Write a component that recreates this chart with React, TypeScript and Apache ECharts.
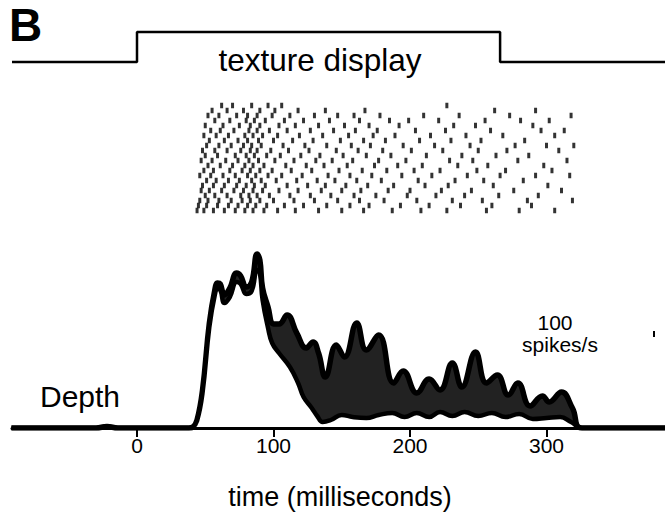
import React, { useEffect, useRef } from "react";
import * as echarts from "echarts";

// ---- data ----
const TICK_VALUES = [0, 100, 200, 300];
const STIM_ON = 0;
const STIM_OFF = 266;

// PSTH upper envelope (time ms, spikes/s scaled)
const PSTH_T_UP = [-92, -30, -22, -14, 38, 41, 44, 48, 53, 57, 59, 61, 64, 68, 73, 76, 80, 84, 88, 90, 92, 96, 100, 104, 110, 117, 124, 129, 133, 138, 146, 152, 161, 168, 177, 188, 195, 205, 214, 222, 231, 238, 248, 256, 264, 272, 279, 288, 297, 302, 311, 319, 326, 390];
const PSTH_UP = [0, 0, 1.5, 0, 0, 1, 8, 38, 105, 138, 145, 144, 133, 140, 155, 152, 141, 146, 174, 168, 140, 121, 104, 104, 113, 95, 80, 86, 75, 51, 83, 71, 105, 78, 93, 45, 57, 35, 49, 38, 65, 41, 76, 45, 53, 33, 45, 22, 32, 26, 36, 20, 0, 0];
// PSTH lower envelope
const PSTH_T_LO = [-92, -30, -22, -14, 38, 41, 44, 48, 53, 57, 59, 61, 64, 68, 73, 76, 80, 84, 88, 90, 92, 96, 99, 104, 112, 118, 122, 128, 132, 136, 142, 150, 158, 168, 177, 187, 196, 205, 214, 222, 231, 240, 250, 260, 270, 280, 290, 300, 310, 318, 326, 390];
const PSTH_LO = [0, 0, 1.5, 0, 0, 1, 7, 35, 101, 133, 139, 138, 125, 131, 146, 144, 134, 137, 158, 155, 128, 100, 85, 75, 61, 45, 31, 20, 12, 6, 8, 13, 11, 10, 13, 15, 11, 15, 11, 16, 12, 16, 12, 15, 11, 14, 9, 10, 11, 6, 0, 0];

// raster: spike times (ms) per trial, top to bottom
const RASTER = [
  [62, 70, 84, 96, 106, 227],
  [55, 66, 78, 90, 101, 118, 138, 167, 262, 292],
  [52, 60, 73, 81, 88, 99, 112, 130, 147, 159, 178, 210, 236, 273, 318],
  [57, 68, 80, 86, 94, 108, 122, 141, 163, 185, 199, 221, 255, 281, 302],
  [50, 63, 75, 83, 90, 104, 116, 133, 152, 170, 192, 232, 248, 290],
  [54, 61, 71, 82, 88, 97, 110, 127, 144, 160, 176, 204, 226, 259, 296, 313],
  [49, 58, 67, 79, 85, 92, 103, 119, 136, 155, 173, 189, 215, 241, 268, 306],
  [53, 64, 74, 81, 89, 100, 114, 129, 149, 166, 182, 207, 230, 252, 284],
  [51, 60, 69, 78, 84, 91, 107, 123, 139, 157, 171, 195, 218, 244, 277, 300, 320],
  [48, 57, 66, 76, 83, 88, 98, 111, 126, 146, 162, 180, 201, 224, 250, 271, 309],
  [50, 59, 72, 80, 86, 95, 105, 120, 134, 151, 168, 186, 212, 238, 263, 287],
  [47, 55, 65, 74, 82, 89, 101, 115, 131, 143, 158, 177, 197, 229, 246, 279, 315],
  [52, 61, 70, 79, 85, 93, 109, 124, 137, 154, 174, 191, 209, 235, 257, 298],
  [49, 56, 68, 77, 83, 90, 99, 113, 128, 148, 165, 183, 203, 222, 249, 270, 304],
  [46, 54, 63, 72, 81, 87, 96, 106, 121, 140, 156, 172, 194, 216, 242, 266, 292, 317],
  [51, 58, 67, 75, 84, 91, 102, 117, 132, 145, 161, 179, 206, 233, 254, 283],
  [48, 56, 64, 73, 80, 86, 94, 110, 125, 138, 153, 169, 188, 211, 228, 261, 301],
  [47, 53, 62, 71, 78, 85, 92, 104, 118, 135, 150, 164, 184, 200, 223, 245, 276, 311],
  [50, 57, 66, 76, 82, 88, 97, 112, 127, 142, 159, 175, 198, 219, 240, 265, 294],
  [46, 52, 60, 69, 77, 83, 90, 100, 115, 130, 147, 163, 181, 205, 231, 253, 286, 319],
  [45, 51, 59, 67, 74, 81, 87, 95, 108, 122, 139, 156, 170, 193, 214, 237, 260, 289],
  [44, 49, 56, 64, 72, 79, 85, 93, 103, 116, 133, 150, 166, 187, 208, 227, 256, 280, 306],
];

// ---- layout ----
const W = 665;
const H = 527;
const PLOT_LEFT = 12;
const ZERO_X = 137;
const PX_PER_MS = 1.365;
const X_MIN = -(ZERO_X - PLOT_LEFT) / PX_PER_MS;
const X_MAX = (W - ZERO_X) / PX_PER_MS;
const FONT = "'Liberation Sans', Arial, Helvetica, sans-serif";

function txt(text: string, x: number, y: number, size: number, align = "center", weight = "normal") {
  return {
    type: "text",
    x,
    y,
    z: 100,
    style: {
      text,
      fill: "#000",
      font: `${weight} ${size}px ${FONT}`,
      align,
      verticalAlign: "middle",
      textAlign: align,
      textVerticalAlign: "middle",
    },
  };
}

export default function App() {
  const ref = useRef<HTMLDivElement>(null);
  useEffect(() => {
    if (!ref.current) return;
    const chart = echarts.init(ref.current, null, { renderer: "svg" });

    const stim = [
      [X_MIN, 0],
      [STIM_ON, 0],
      [STIM_ON, 1],
      [STIM_OFF, 1],
      [STIM_OFF, 0],
      [X_MAX, 0],
    ];
    const upper = PSTH_T_UP.map((t, i) => [t, PSTH_UP[i]]);
    const lower = PSTH_T_LO.map((t, i) => [t, PSTH_LO[i]]);
    const spikes: number[][] = [];
    RASTER.forEach((row, r) => row.forEach((t) => spikes.push([t, r])));

    const hiddenX = (gridIndex: number) => ({
      type: "value",
      gridIndex,
      min: X_MIN,
      max: X_MAX,
      show: false,
    });

    chart.setOption({
      animation: false,
      backgroundColor: "#fff",
      grid: [
        { left: PLOT_LEFT, right: 0, top: 32, height: 30 },
        { left: PLOT_LEFT, right: 0, top: 103, height: 110 },
        { left: PLOT_LEFT, right: 0, top: 228, height: 200 },
      ],
      xAxis: [
        hiddenX(0),
        hiddenX(1),
        {
          type: "value",
          gridIndex: 2,
          min: X_MIN,
          max: X_MAX,
          z: 10,
          axisLine: { show: true, onZero: false, lineStyle: { color: "#000", width: 3 } },
          axisTick: {
            show: true,
            customValues: TICK_VALUES,
            length: 9,
            lineStyle: { color: "#000", width: 2 },
          },
          axisLabel: {
            show: true,
            customValues: TICK_VALUES,
            color: "#000",
            fontSize: 21,
            fontFamily: FONT,
            margin: 7,
          },
          splitLine: { show: false },
        },
      ],
      yAxis: [
        { type: "value", gridIndex: 0, min: 0, max: 1, show: false },
        { type: "value", gridIndex: 1, min: -0.5, max: RASTER.length - 0.5, inverse: true, show: false },
        { type: "value", gridIndex: 2, min: 0, max: 200, show: false },
      ],
      series: [
        {
          type: "line",
          xAxisIndex: 0,
          yAxisIndex: 0,
          data: stim,
          clip: false,
          symbol: "none",
          lineStyle: { color: "#000", width: 2.5 },
        },
        {
          type: "scatter",
          xAxisIndex: 1,
          yAxisIndex: 1,
          data: spikes,
          symbol: "rect",
          symbolSize: [3, 5.5],
          itemStyle: { color: "#000" },
        },
        {
          type: "line",
          xAxisIndex: 2,
          yAxisIndex: 2,
          data: upper,
          smooth: 0.45,
          symbol: "none",
          lineStyle: { color: "#000", width: 5.5 },
          areaStyle: { color: "#222", opacity: 1 },
          z: 3,
        },
        {
          type: "line",
          xAxisIndex: 2,
          yAxisIndex: 2,
          data: lower,
          smooth: 0.45,
          symbol: "none",
          lineStyle: { color: "#000", width: 4.5 },
          areaStyle: { color: "#fff", opacity: 1 },
          z: 4,
        },
      ],
      graphic: [
        txt("B", 9, 25, 46, "left", "bold"),
        txt("texture display", 320, 60, 31.5),
        txt("Depth", 40, 396, 30, "left"),
        txt("100", 555, 322, 21),
        txt("spikes/s", 560, 344, 21),
        {
          type: "line",
          z: 100,
          shape: { x1: 654, y1: 331, x2: 654, y2: 337 },
          style: { stroke: "#000", lineWidth: 2 },
        },
        txt("time (milliseconds)", 340, 497, 27),
      ],
    });
    return () => chart.dispose();
  }, []);
  return (
    <div
      ref={ref}
      style={{ position: "fixed", left: 0, top: 0, width: W, height: H, background: "#fff" }}
    />
  );
}
